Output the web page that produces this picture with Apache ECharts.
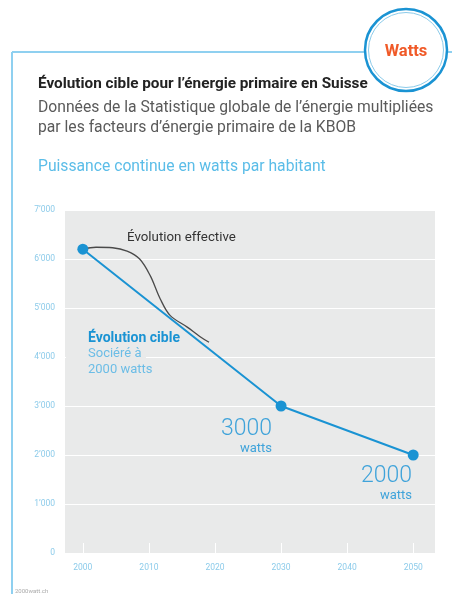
<!DOCTYPE html>
<html>
<head>
<meta charset="utf-8">
<script src="https://cdn.jsdelivr.net/npm/echarts@6/dist/echarts.min.js"></script>
<style>
  html, body { margin: 0; padding: 0; background: #fff; }
  #chart { width: 452px; height: 594px; }
</style>
</head>
<body>
<div id="chart"></div>
<script>
// données (années, watts par habitant)
const CIBLE_ANNEES = [2000, 2030, 2050];
const CIBLE_VALEURS = [6200, 3000, 2000];
const CIBLE_LABELS = ['', '3000', '2000'];

const EFFECTIVE_ANNEES = [2000, 2002, 2004.5, 2006.7, 2008.6, 2010.2, 2011.7, 2013.2, 2015.8, 2017.7, 2019.1];
const EFFECTIVE_VALEURS = [6200, 6240, 6230, 6160, 6000, 5660, 5190, 4850, 4610, 4420, 4300];

const ANNEES_TICKS = [2000, 2010, 2020, 2030, 2040, 2050];

const BLEU = '#1a93d3';
const BLEU_CLAIR = '#8ccbea';
const GRIS_FOND = '#e9eaea';
const FONT = 'Roboto, "DejaVu Sans", sans-serif';

const chart = echarts.init(document.getElementById('chart'), null, { renderer: 'canvas' });

// positions des étiquettes 3000 / 2000 watts (décalage par rapport au point)
const labelPos = [null, [-3.5, 16.5], [4.3, 14.5]];

const cibleData = CIBLE_ANNEES.map((a, i) => {
  const item = { value: [a, CIBLE_VALEURS[i]] };
  if (CIBLE_LABELS[i]) {
    item.label = {
      show: true,
      position: labelPos[i],
      align: 'right',
      verticalAlign: 'top',
      formatter: '{big|' + CIBLE_LABELS[i] + '}\n{small|watts}',
      rich: {
        big: { fontSize: 23, fontWeight: 300, lineHeight: 24, color: '#3fa3da', fontFamily: FONT, align: 'right' },
        small: { fontSize: 13, lineHeight: 16, color: '#3fa3da', fontFamily: FONT, align: 'right' }
      }
    };
  }
  return item;
});

const option = {
  animation: false,
  backgroundColor: '#fff',
  title: [
    {
      text: 'Évolution cible pour l\u2019énergie primaire en Suisse',
      left: 38, top: 75, padding: 0,
      textStyle: { fontFamily: FONT, fontSize: 15.3, fontWeight: 'bold', color: '#222', lineHeight: 18 }
    },
    {
      text: 'Données de la Statistique globale de l\u2019énergie multipliées\npar les facteurs d\u2019énergie primaire de la KBOB',
      left: 38, top: 98, padding: 0,
      textStyle: { fontFamily: FONT, fontSize: 15.7, fontWeight: 'normal', color: '#5a5a5a', lineHeight: 20 }
    },
    {
      text: 'Puissance continue en watts par habitant',
      left: 38, top: 157, padding: 0,
      textStyle: { fontFamily: FONT, fontSize: 15.7, fontWeight: 'normal', color: '#5bbde8', lineHeight: 20 }
    }
  ],
  grid: {
    left: 65, right: 17, top: 210, bottom: 41,
    show: true, backgroundColor: GRIS_FOND, borderWidth: 0
  },
  xAxis: {
    type: 'value',
    min: 1997.3,
    max: 2053.3,
    axisLine: { show: false },
    splitLine: { show: false },
    axisTick: {
      show: true, inside: true, length: 10,
      customValues: ANNEES_TICKS,
      lineStyle: { color: '#fff', width: 1 }
    },
    axisLabel: {
      customValues: ANNEES_TICKS,
      margin: 10,
      fontFamily: FONT, fontSize: 8.5, color: BLEU_CLAIR,
      formatter: v => String(v)
    }
  },
  yAxis: {
    type: 'value',
    min: 0, max: 7000, interval: 1000,
    axisLine: { show: false },
    axisTick: { show: false },
    splitLine: { lineStyle: { color: '#fff', width: 1 } },
    axisLabel: {
      margin: 10,
      fontFamily: FONT, fontSize: 8.5, color: BLEU_CLAIR,
      formatter: v => v === 0 ? '0' : (v / 1000) + '\u2019000'
    }
  },
  series: [
    {
      name: 'Évolution effective',
      type: 'line',
      data: EFFECTIVE_ANNEES.map((a, i) => [a, EFFECTIVE_VALEURS[i]]),
      smooth: 0.35,
      showSymbol: false,
      lineStyle: { color: '#4a4a4a', width: 1.3 },
      z: 2
    },
    {
      name: 'Évolution cible',
      type: 'line',
      data: cibleData,
      symbol: 'circle',
      symbolSize: 11,
      itemStyle: { color: BLEU },
      lineStyle: { color: BLEU, width: 2 },
      z: 3
    }
  ],
  graphic: [
    // cadre bleu clair
    { type: 'line', shape: { x1: 12, y1: 52, x2: 12, y2: 594 }, style: { stroke: '#8fd0f0', lineWidth: 2 } },
    { type: 'line', shape: { x1: 12, y1: 52, x2: 452, y2: 52 }, style: { stroke: '#8fd0f0', lineWidth: 2 } },
    // pastille "Watts"
    { type: 'circle', shape: { cx: 406, cy: 50, r: 41 }, style: { fill: '#fff', stroke: BLEU, lineWidth: 2.5 }, z: 10 },
    { type: 'circle', shape: { cx: 406, cy: 50, r: 37.5 }, style: { fill: 'none', stroke: '#8ccbea', lineWidth: 1 }, z: 11 },
    {
      type: 'text', x: 406, y: 52, z: 12,
      style: { text: 'Watts', fontFamily: FONT, fontSize: 16.5, fontWeight: 'bold', fill: '#f05a28', align: 'center', verticalAlign: 'middle' }
    },
    // annotations
    {
      type: 'text', x: 127, y: 238, z: 20,
      style: { text: 'Évolution effective', fontFamily: FONT, fontSize: 13.3, fill: '#333', verticalAlign: 'middle' }
    },
    { type: 'rect', shape: { x: 66, y: 347, width: 80, height: 14 }, style: { fill: GRIS_FOND }, z: 19 },
    {
      type: 'text', x: 88, y: 338, z: 20,
      style: { text: 'Évolution cible', fontFamily: FONT, fontSize: 14, fontWeight: 'bold', fill: BLEU, verticalAlign: 'middle' }
    },
    {
      type: 'text', x: 88, y: 354, z: 20,
      style: { text: 'Sociéré à', fontFamily: FONT, fontSize: 13, fill: '#6cbde6', verticalAlign: 'middle' }
    },
    {
      type: 'text', x: 88, y: 370, z: 20,
      style: { text: '2000 watts', fontFamily: FONT, fontSize: 13, fill: '#6cbde6', verticalAlign: 'middle' }
    },
    {
      type: 'text', x: 15, y: 591, z: 20,
      style: { text: '2000watt.ch', fontFamily: FONT, fontSize: 6, fill: '#aaa', verticalAlign: 'middle' }
    }
  ]
};

chart.setOption(option);
window.addEventListener('resize', () => chart.resize());
</script>
</body>
</html>
